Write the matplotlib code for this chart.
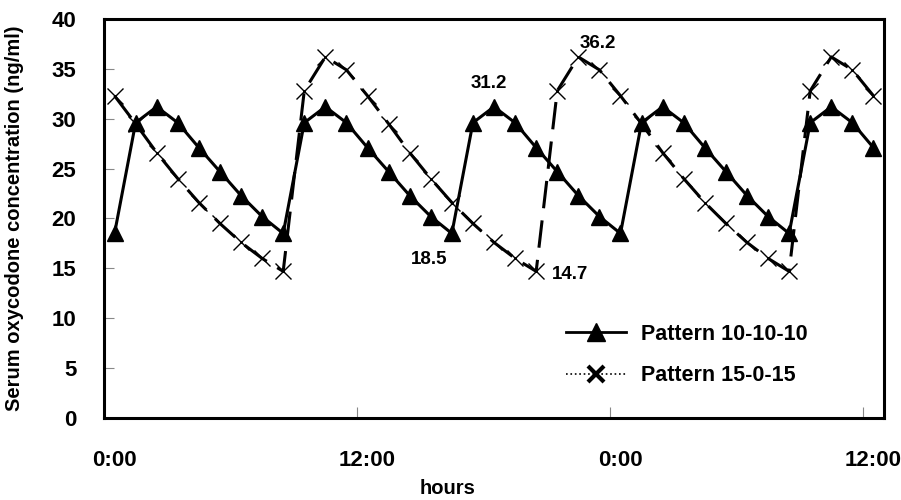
import matplotlib
matplotlib.use('Agg')
import matplotlib.pyplot as plt
import matplotlib.transforms as mtransforms
from matplotlib.lines import Line2D

# hours after start (0:00)
hours = [0.5, 1.5, 2.5, 3.5, 4.5, 5.5, 6.5, 7.5, 8.5, 9.5, 10.5, 11.5,
         12.5, 13.5, 14.5, 15.5, 16.5, 17.5, 18.5, 19.5, 20.5, 21.5, 22.5, 23.5,
         24.5, 25.5, 26.5, 27.5, 28.5, 29.5, 30.5, 31.5, 32.5, 33.5, 34.5, 35.5,
         36.5]

# serum oxycodone (ng/ml)
pattern_10_10_10 = [18.5, 29.6, 31.2, 29.6, 27.1, 24.7, 22.3, 20.2,
                    18.5, 29.6, 31.2, 29.6, 27.1, 24.7, 22.3, 20.2,
                    18.5, 29.6, 31.2, 29.6, 27.1, 24.7, 22.3, 20.2,
                    18.5, 29.6, 31.2, 29.6, 27.1, 24.7, 22.3, 20.2,
                    18.5, 29.6, 31.2, 29.6, 27.1]
pattern_15_0_15 = [32.3, 29.5, 26.6, 24.0, 21.6, 19.5, 17.6, 16.0, 14.7, 32.8, 36.2, 34.9,
                   32.3, 29.5, 26.6, 24.0, 21.6, 19.5, 17.6, 16.0, 14.7, 32.8, 36.2, 34.9,
                   32.3, 29.5, 26.6, 24.0, 21.6, 19.5, 17.6, 16.0, 14.7, 32.8, 36.2, 34.9,
                   32.3]

tick_hours = [0, 12, 24, 36]
tick_labels = ['0:00', '12:00', '0:00', '12:00']

# labelled values: (hour, value, text)
notes = [(18.5, 31.2, '31.2'), (22.5, 36.2, '36.2'), (16.5, 18.5, '18.5'), (20.5, 14.7, '14.7')]

plt.rcParams['font.family'] = ['Liberation Sans', 'DejaVu Sans']
plt.rcParams['font.weight'] = 'bold'

fig = plt.figure(figsize=(9.01, 5), dpi=100)
ax = fig.add_axes([104/901, 82/500, 780/901, 399/500])

ax.plot(hours, pattern_15_0_15, color='black', lw=2.2, dashes=(9, 4),
        marker='x', ms=12, mew=1.0, zorder=2)
ax.plot(hours, pattern_10_10_10, color='black', lw=2.2, ls='-',
        marker='^', ms=12, zorder=3)

ax.set_xlim(0, 37)
ax.set_ylim(0, 40)
ax.set_yticks(range(0, 41, 5))
ax.set_xticks(tick_hours)
ax.set_xticklabels(tick_labels)

for s in ax.spines.values():
    s.set_linewidth(2.2)
ax.tick_params(axis='x', direction='in', length=8, width=0.8, color='#888888',
               pad=23, labelsize=16)
ax.tick_params(axis='y', direction='in', length=7, width=0.8, color='#888888',
               pad=20, labelsize=16)

offset = mtransforms.ScaledTranslation(10/100, 0, fig.dpi_scale_trans)
for lab in ax.get_xticklabels():
    lab.set_transform(lab.get_transform() + offset)

ax.set_ylabel('Serum oxycodone concentration (ng/ml)', fontsize=14.5, fontweight='bold')
ax.yaxis.set_label_coords(-0.1025, 0.5)
fig.text(448/901, 11/500, 'hours', ha='center', va='center', fontsize=14.5,
         fontweight='bold')

note_offsets = {'31.2': (-4, 17, 'center'), '36.2': (1, 10, 'left'),
                '18.5': (-3, -19, 'right'), '14.7': (11, -2, 'left')}
for h, v, t in notes:
    dx, dy, ha = note_offsets[t]
    ax.annotate(t, (h, v), xytext=(dx, dy), textcoords='offset points',
                ha=ha, va='center', fontsize=13.5, fontweight='bold')

handles = [Line2D([], [], color='black', lw=2, marker='^', ms=13),
           Line2D([], [], color='black', lw=1.2, ls=':', marker='x', ms=12, mew=3)]
ax.legend(handles, ['Pattern 10-10-10', 'Pattern 15-0-15'], loc='upper left',
          bbox_to_anchor=(566/901, 1 - 324/500), bbox_transform=fig.transFigure,
          frameon=False, borderpad=0, borderaxespad=0, handlelength=2.8,
          handletextpad=0.7, labelspacing=0.95,
          prop={'weight': 'bold', 'size': 15.5})

fig.savefig('out.png', dpi=100)
